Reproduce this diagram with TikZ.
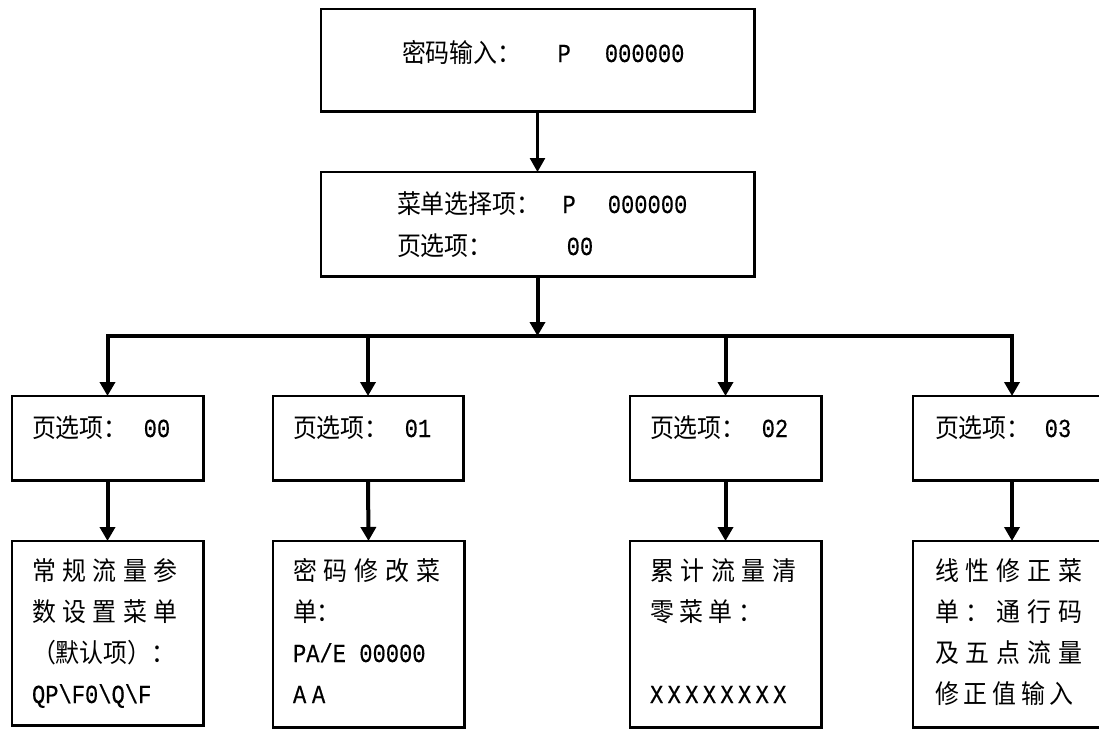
\documentclass[tikz,border=0pt]{standalone}
\usepackage{fontspec}
\newfontfamily\cjk[FakeStretch=0.92]{Noto Sans CJK SC}
\newfontfamily\latmono[FakeStretch=0.85,FakeBold=0.4]{Liberation Mono}
\usetikzlibrary{arrows.meta}
\newcommand\la[1]{{\latmono\fontsize{26}{28}\selectfont #1}}
\newcommand\sprd[2]{\def\sprdw{#1}\sprdloop#2\relax}
\def\sprdloop#1{\ifx#1\relax\else\makebox[\sprdw][l]{#1}\expandafter\sprdloop\fi}
\begin{document}
\begin{tikzpicture}[x=1pt,y=-1pt,
  box/.style={draw=black, line width=1.3pt, inner sep=0pt, outer sep=0pt, anchor=north west, fill=white},
  shad/.style={line width=2pt, line cap=rect},
  txt/.style={inner sep=0pt, outer sep=0pt, anchor=base west, font=\cjk\fontsize{26}{28}\selectfont},
  conn/.style={line width=4pt, -{Triangle[width=15pt,length=14pt]}},
  thinconn/.style={line width=2.6pt, -{Triangle[width=15pt,length=14pt]}},
  barline/.style={line width=4pt, line cap=rect}]
\useasboundingbox[fill=white] (0,0) rectangle (1099,729);

% boxes
\node[box, minimum width=433pt, minimum height=102pt] (top) at (321,9) {};
\node[box, minimum width=433pt, minimum height=104pt] (menu) at (321,172) {};
\node[box, minimum width=191pt, minimum height=84pt] (p0) at (12,396) {};
\node[box, minimum width=190pt, minimum height=84pt] (p1) at (273,396) {};
\node[box, minimum width=191pt, minimum height=84pt] (p2) at (630,396) {};
\node[box, minimum width=198pt, minimum height=84pt] (p3) at (913,396) {};
\node[box, minimum width=191pt, minimum height=184pt] (m0) at (12,541) {};
\node[box, minimum width=191pt, minimum height=186pt] (m1) at (273,541) {};
\node[box, minimum width=191pt, minimum height=186pt] (m2) at (630,541) {};
\node[box, minimum width=198pt, minimum height=186pt] (m3) at (913,541) {};

% shadows (thicker right and bottom edges)
\foreach \n in {top,menu,p0,p1,p2,p3,m0,m1,m2,m3}
  \draw[shad] ([xshift=0.8pt]\n.north east) -- ([xshift=0.8pt,yshift=-0.8pt]\n.south east) -- ([yshift=-0.8pt]\n.south west);

% texts
\node[txt] (ttop) at (402,62) {密码输入：\hspace{36pt}\la{P}\hspace{34pt}\la{000000}};
\node[txt] (tmenua) at (397,213) {菜单选择项：\hspace{22pt}\la{P}\hspace{32pt}\la{000000}};
\node[txt] (tmenub) at (397,255) {页选项：\hspace{74pt}\la{00}};

\node[txt] (tp0) at (32,437) {页选项：\hspace{16pt}\la{00}};
\node[txt] (tp1) at (293,437) {页选项：\hspace{16pt}\la{01}};
\node[txt] (tp2) at (650,437) {页选项：\hspace{16pt}\la{02}};
\node[txt] (tp3) at (935,437) {页选项：\hspace{14pt}\la{03}};

\node[txt] (tm0a) at (32,580) {\sprd{30.5pt}{常规流量参}};
\node[txt] (tm0b) at (32,621) {\sprd{30.5pt}{数设置菜单}};
\node[txt] (tm0c) at (32,662) {（默认项）：};
\node[txt] (tm0d) at (32,703) {\la{QP\textbackslash F0\textbackslash Q\textbackslash F}};

\node[txt] (tm1a) at (293,580) {\sprd{31pt}{密码修改菜}};
\node[txt] (tm1b) at (293,621) {单：};
\node[txt] (tm1c) at (293,662) {\la{PA/E 00000}};
\node[txt] (tm1d) at (293,703) {\la{\sprd{19pt}{AA}}};

\node[txt] (tm2a) at (650,580) {\sprd{30.5pt}{累计流量清}};
\node[txt] (tm2b) at (650,621) {\sprd{29.5pt}{零菜单：}};
\node[txt] (tm2d) at (650,703) {\la{\sprd{17.6pt}{XXXXXXXX}}};

\node[txt] (tm3a) at (935,580) {\sprd{31pt}{线性修正菜}};
\node[txt] (tm3b) at (935,621) {\sprd{31pt}{单：通行码}};
\node[txt] (tm3c) at (935,662) {\sprd{31pt}{及五点流量}};
\node[txt] (tm3d) at (935,703) {\sprd{28.75pt}{修正值输入}};

% connectors
\coordinate (bary) at (0,336);
\draw[thinconn] (top.south) -- (menu.north);
\draw[conn] (menu.south) -- (menu.south |- bary);
\draw[barline] (p0.north |- bary) -- (p3.north |- bary);
\foreach \p in {p0,p1,p2,p3}
  \draw[conn] (\p.north |- bary) -- (\p.north);
\foreach \a/\b in {p0/m0,p1/m1,p2/m2,p3/m3}
  \draw[conn] (\a.south) -- (\b.north);
\end{tikzpicture}
\end{document}
